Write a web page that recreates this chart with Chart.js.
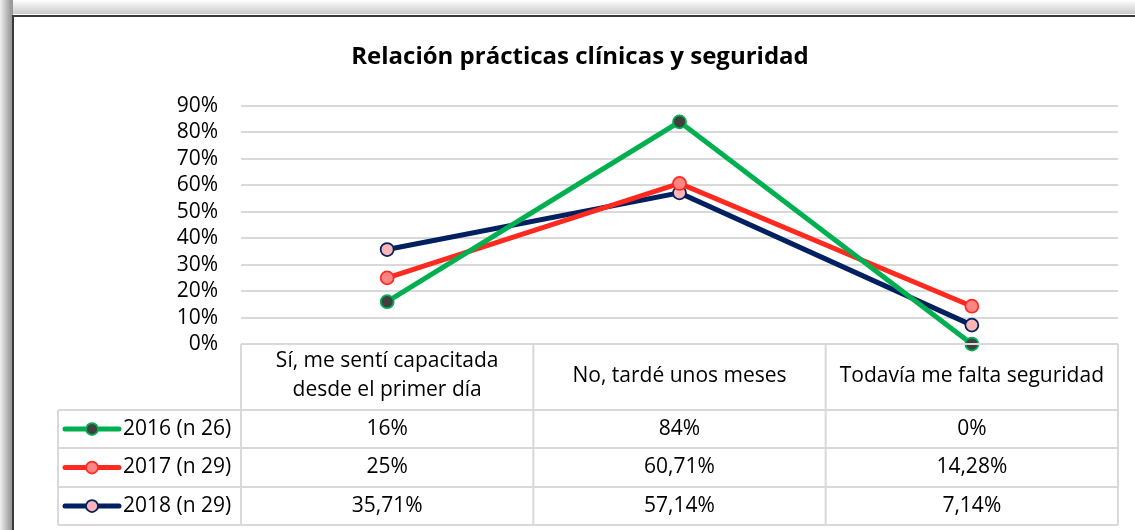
<!DOCTYPE html>
<html>
<head>
<meta charset="utf-8">
<script src="https://cdn.jsdelivr.net/npm/chart.js@4.4.1/dist/chart.umd.min.js"></script>
<style>
  html, body { margin: 0; padding: 0; background: #ffffff; width: 1135px; height: 530px; overflow: hidden; }
  #shade { position: absolute; left: 0; top: 0; width: 1135px; height: 530px;
    background: linear-gradient(to bottom, #ffffff 0px, #c8c8c8 14px, transparent 14px); }
  #shadeL { position: absolute; left: 0; top: 0; width: 13px; height: 530px;
    background: linear-gradient(to right, #f0f0f0 0px, #9a9a9a 11px); }
  #frame { position: absolute; left: 12px; top: 15px; width: 1140px; height: 540px;
    background: #ffffff; border-left: 2px solid #3a3a3a; border-top: 2px solid #3a3a3a; box-sizing: border-box; }
  #wrap { position: absolute; left: 0; top: 0; width: 1135px; height: 530px; }
</style>
</head>
<body>
<div id="shade"></div>
<div id="shadeL"></div>
<div id="frame"></div>
<div id="wrap"><canvas id="c" width="1135" height="530"></canvas></div>
<script>
const titleText = "Relación prácticas clínicas y seguridad";
const categories = [["Sí, me sentí capacitada", "desde el primer día"], ["No, tardé unos meses"], ["Todavía me falta seguridad"]];
const seriesNames = ["2016 (n 26)", "2017 (n 29)", "2018 (n 29)"];
const values2016 = [16, 84, 0];
const values2017 = [25, 60.71, 14.28];
const values2018 = [35.71, 57.14, 7.14];
const tableText2016 = ["16%", "84%", "0%"];
const tableText2017 = ["25%", "60,71%", "14,28%"];
const tableText2018 = ["35,71%", "57,14%", "7,14%"];
const yTicks = [0, 10, 20, 30, 40, 50, 60, 70, 80, 90];

const FONT = "'Open Sans', Lato, sans-serif";
const BODY_SIZE = 21;
const lineColors = ["#00b050", "#ff2a1f", "#002060"];
const markerFill = ["#404040", "#ff8585", "#ffb5b5"];
const tableRows = [tableText2016, tableText2017, tableText2018];

const tablePlugin = {
  id: 'tablePlugin',
  afterDraw(chart) {
    const ctx = chart.ctx;
    const ca = chart.chartArea;
    const xs = chart.scales.x;
    const L = ca.left, R = ca.right;
    const colW = (R - L) / 3;
    const rowsY = [ca.bottom, 410, 448, 487, 525];
    const legendLeft = 58;
    ctx.save();
    // title
    ctx.fillStyle = "#000";
    ctx.font = "bold 24px " + FONT;
    ctx.textAlign = "center";
    ctx.textBaseline = "middle";
    ctx.fillText(titleText, 580, 57);
    // table lines
    ctx.strokeStyle = "#d9d9d9";
    ctx.lineWidth = 2;
    ctx.beginPath();
    ctx.moveTo(L, rowsY[0]); ctx.lineTo(R, rowsY[0]);
    for (let i = 1; i < rowsY.length; i++) {
      ctx.moveTo(legendLeft, rowsY[i]); ctx.lineTo(R, rowsY[i]);
    }
    for (let c = 0; c <= 3; c++) {
      const x = L + c * colW;
      ctx.moveTo(x, rowsY[0]); ctx.lineTo(x, rowsY[4]);
    }
    ctx.moveTo(legendLeft, rowsY[1]); ctx.lineTo(legendLeft, rowsY[4]);
    ctx.stroke();
    // headers
    ctx.fillStyle = "#000";
    ctx.font = BODY_SIZE + "px " + FONT;
    ctx.textAlign = "center";
    ctx.textBaseline = "middle";
    categories.forEach((lines, i) => {
      const cx = xs.getPixelForValue(i);
      const cy = 376;
      const lh = 29;
      lines.forEach((t, k) => {
        ctx.fillText(t, cx, cy + (k - (lines.length - 1) / 2) * lh);
      });
    });
    // rows
    tableRows.forEach((row, r) => {
      const cy = (rowsY[r + 1] + rowsY[r + 2]) / 2;
      row.forEach((t, i) => {
        ctx.textAlign = "center";
        ctx.fillText(t, xs.getPixelForValue(i), cy);
      });
      // legend key
      ctx.strokeStyle = lineColors[r];
      ctx.lineWidth = 5;
      ctx.lineCap = "round";
      ctx.beginPath();
      ctx.moveTo(65, cy); ctx.lineTo(119, cy);
      ctx.stroke();
      ctx.beginPath();
      ctx.arc(92, cy, 6, 0, Math.PI * 2);
      ctx.fillStyle = markerFill[r];
      ctx.fill();
      ctx.lineWidth = 1.75;
      ctx.stroke();
      ctx.fillStyle = "#000";
      ctx.textAlign = "left";
      ctx.fillText(seriesNames[r], 123, cy);
    });
    ctx.restore();
  }
};

function ds(label, data, i) {
  return {
    label: label,
    data: data,
    borderColor: lineColors[i],
    backgroundColor: markerFill[i],
    pointBackgroundColor: markerFill[i],
    pointBorderColor: lineColors[i],
    pointBorderWidth: 1.75,
    pointRadius: 6.5,
    borderWidth: 5,
    tension: 0,
    fill: false,
    clip: false
  };
}

new Chart(document.getElementById('c'), {
  type: 'line',
  data: {
    labels: categories.map(c => c.join(' ')),
    datasets: [
      ds(seriesNames[0], values2016, 0),
      ds(seriesNames[1], values2017, 1),
      ds(seriesNames[2], values2018, 2)
    ]
  },
  options: {
    responsive: false,
    animation: false,
    devicePixelRatio: 1,
    layout: { padding: { top: 106, right: 17, bottom: 186, left: 0 } },
    plugins: { legend: { display: false }, title: { display: false }, tooltip: { enabled: false } },
    scales: {
      x: {
        type: 'category',
        offset: true,
        display: false
      },
      y: {
        min: 0,
        max: 90,
        afterFit(s) { s.width = 241; },
        afterBuildTicks(s) { s.ticks = yTicks.map(v => ({ value: v })); },
        border: { display: false },
        grid: { color: "#d9d9d9", lineWidth: 2, drawTicks: false },
        ticks: {
          autoSkip: false,
          padding: 23,
          color: "#000",
          font: { family: FONT, size: BODY_SIZE, lineHeight: 1 },
          callback: v => v + "%"
        }
      }
    }
  },
  plugins: [tablePlugin]
});
</script>
</body>
</html>
